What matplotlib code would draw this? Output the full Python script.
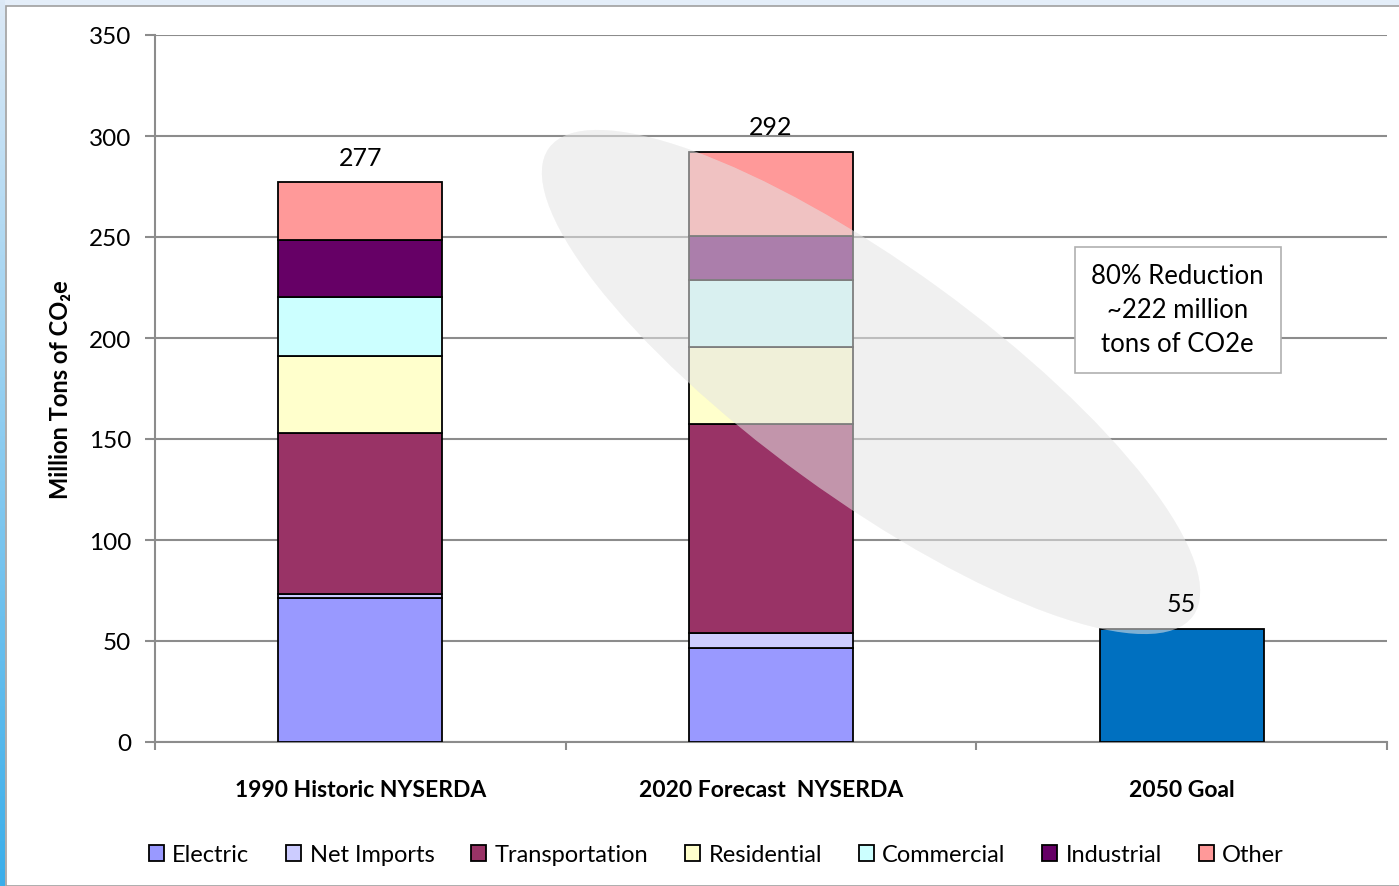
import numpy as np
import matplotlib
matplotlib.use('Agg')
from matplotlib import pyplot as plt
from matplotlib.patches import Ellipse, Rectangle, Patch
from matplotlib.transforms import IdentityTransform

categories = ['1990 Historic NYSERDA', '2020 Forecast  NYSERDA', '2050 Goal']
sectors = ['Electric', 'Net Imports', 'Transportation', 'Residential',
           'Commercial', 'Industrial', 'Other']
colors = ['#9999ff', '#ccccff', '#993366', '#ffffcc', '#ccffff', '#660066', '#ff9999']

# values for 1990 and 2020, bottom to top
electric = [71.5, 46.5]
net_imports = [2.0, 7.5]
transportation = [79.5, 103.4]
residential = [38.2, 38.3]
commercial = [29.2, 33.0]
industrial = [28.2, 22.0]
other = [28.4, 41.3]
goal_2050 = 56
total_labels = ['277', '292', '55']

plt.rcParams['font.family'] = ['Lato', 'DejaVu Sans']
plt.rcParams['hatch.linewidth'] = 0.5

fig = plt.figure(figsize=(13.99, 8.87), dpi=100)
fig.patch.set_facecolor('#e4eef9')

# window-like frame: white panel and left blue strip
fig.patches.append(Rectangle((6 / 1399, 0), 1, 880 / 887, transform=fig.transFigure,
                             facecolor='white', edgecolor='#a0a0a0', lw=1.2, zorder=-5))
ax_bg = fig.add_axes([0, 0, 5 / 1399, 1], zorder=-4)
grad = np.linspace(0, 1, 256).reshape(-1, 1)
ax_bg.imshow(grad, aspect='auto', cmap=matplotlib.colors.LinearSegmentedColormap.from_list(
    'edge', ['#dce9f6', '#3aaeea']), extent=[0, 1, 0, 1])
ax_bg.axis('off')

ax = fig.add_axes([155 / 1399, 144 / 887, 1232 / 1399, 707 / 887])
ax.set_facecolor('none')

x = np.arange(2)
width = 0.40
series = [electric, net_imports, transportation, residential, commercial, industrial, other]
bottom = np.zeros(2)
for vals, name, col in zip(series, sectors, colors):
    ax.bar(x, vals, width, bottom=bottom, color=col, edgecolor='black', lw=1.3,
           label=name, zorder=3)
    bottom += np.array(vals)
ax.bar([2], [goal_2050], width, color='#0070c0', edgecolor='black', lw=1.3, zorder=3)

tops = list(bottom) + [goal_2050]
for i, t in enumerate(tops):
    ax.annotate(total_labels[i], (i, t), xytext=(0, 10), textcoords='offset points',
                ha='center', va='bottom', fontsize=18, zorder=6)

ax.set_ylim(0, 350)
ax.set_xlim(-0.5, 2.5)
ax.set_yticks(np.arange(0, 351, 50))
ax.yaxis.grid(True, color='#8c8c8c', lw=1.5, zorder=0)
ax.set_axisbelow(True)
ax.set_xticks([-0.5, 0.5, 1.5, 2.5])
ax.set_xticklabels([])
ax.set_xticks(x.tolist() + [2], minor=True)
ax.set_xticklabels(categories, minor=True, fontsize=16.5, fontweight='bold')
ax.tick_params(axis='x', which='minor', length=0, pad=27)
ax.tick_params(axis='x', which='major', length=6, width=1.5, color='#8c8c8c')
ax.tick_params(axis='y', length=7, width=1.5, color='#8c8c8c', labelsize=17.5, pad=10)
for s in ['top', 'right']:
    ax.spines[s].set_visible(False)
for s in ['left', 'bottom']:
    ax.spines[s].set_color('#8c8c8c')
    ax.spines[s].set_linewidth(1.5)
ax.set_ylabel('Million Tons of CO₂e', fontsize=17, fontweight='bold', labelpad=12)

# shaded ellipse over the reduction
ell = Ellipse((871, 887 - 383), 796, 232, angle=-36, transform=IdentityTransform(),
              facecolor=(0.78, 0.78, 0.78, 0.36), edgecolor=(1, 1, 1, 0.3),
              lw=0, hatch='+' * 15, zorder=5)
ax.add_artist(ell)

ax.text(1.99, 214, '80% Reduction\n~222 million\ntons of CO2e', ha='center', va='center',
        fontsize=18.5, linespacing=1.45, zorder=6,
        bbox=dict(boxstyle='square,pad=0.65', facecolor='white', edgecolor='#b0b0b0', lw=1.2))

handles = [Patch(facecolor=c, edgecolor='black', lw=1.3) for c in colors]
fig.legend(handles, sectors, loc='center', bbox_to_anchor=(0.512, 0.035), ncol=7,
           frameon=False, fontsize=17, handlelength=0.65, handleheight=0.65,
           handletextpad=0.35, columnspacing=1.55)

fig.savefig('out.png', dpi=100)
